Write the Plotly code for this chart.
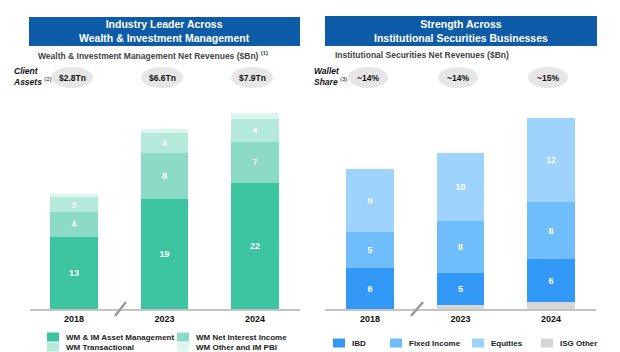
import plotly.graph_objects as go

W, H = 620, 352

# ---------------- data ----------------
years = ["2018", "2023", "2024"]

# Wealth & Investment Management ($Bn)
wm_asset_mgmt = [12.6, 19.2, 22.0]
wm_nii = [4.3, 8.0, 7.2]
wm_transactional = [2.6, 3.5, 4.0]
wm_other = [0.5, 0.8, 1.0]
wm_asset_lbl = ["13", "19", "22"]
wm_nii_lbl = ["4", "8", "7"]
wm_trans_lbl = ["3", "4", "4"]
wm_total_lbl = ["20", "32", "34"]
client_assets = ["$2.8Tn", "$6.6Tn", "$7.9Tn"]

# Institutional Securities ($Bn)
isg_other = [0.0, 0.6, 1.0]
ibd = [6.0, 4.7, 6.3]
fixed_income = [5.3, 7.6, 8.4]
equities = [9.3, 10.1, 12.4]
ibd_lbl = ["6", "5", "6"]
fi_lbl = ["5", "8", "8"]
eq_lbl = ["9", "10", "12"]
isg_total_lbl = ["21", "23", "28"]
wallet_share = ["~14%", "~14%", "~15%"]

# ---------------- styles ----------------
FONT = "Liberation Sans, Arial, sans-serif"
C_AM, C_NII, C_TR, C_OT = "#3CC3A0", "#8BDBC6", "#B4E9DB", "#DDF5EF"
C_IBD, C_FI, C_EQ, C_ISO = "#3399F7", "#6FBDFB", "#9DD3FD", "#D6D6D6"
BLUE = "#0E5BA8"
BW = 0.52


def px(x):
    return x / W


def py(y):
    return 1 - y / H


fig = go.Figure()


def add_bar(x, y, color, labels, name, xa, ya):
    fig.add_trace(go.Bar(
        x=x, y=y, name=name, marker=dict(color=color, line=dict(width=0)),
        width=BW, xaxis=xa, yaxis=ya, showlegend=False,
        text=labels if labels else None,
        texttemplate="%{text}" if labels else None,
        textposition="inside" if labels else "none",
        insidetextanchor="middle", textangle=0, constraintext="none",
        textfont=dict(color="white", size=9, family=FONT, weight="bold"),
        hoverinfo="skip",
    ))


add_bar(years, wm_asset_mgmt, C_AM, wm_asset_lbl, "WM & IM Asset Management", "x", "y")
add_bar(years, wm_nii, C_NII, wm_nii_lbl, "WM Net Interest Income", "x", "y")
add_bar(years, wm_transactional, C_TR, wm_trans_lbl, "WM Transactional", "x", "y")
add_bar(years, wm_other, C_OT, None, "WM Other and IM PBI", "x", "y")

add_bar(years, isg_other, C_ISO, None, "ISG Other", "x2", "y2")
add_bar(years, ibd, C_IBD, ibd_lbl, "IBD", "x2", "y2")
add_bar(years, fixed_income, C_FI, fi_lbl, "Fixed Income", "x2", "y2")
add_bar(years, equities, C_EQ, eq_lbl, "Equities", "x2", "y2")

annotations = []
shapes = []

# totals above bars
wm_tot = [a + b + c + d for a, b, c, d in zip(wm_asset_mgmt, wm_nii, wm_transactional, wm_other)]
isg_tot = [a + b + c + d for a, b, c, d in zip(isg_other, ibd, fixed_income, equities)]
for yr, t, l in zip(years, wm_tot, wm_total_lbl):
    annotations.append(dict(x=yr, y=t, xref="x", yref="y", text=f"<b>{l}</b>", showarrow=False,
                            xanchor="center", yanchor="bottom", yshift=2,
                            font=dict(size=9.5, color="#111", family=FONT)))
for yr, t, l in zip(years, isg_tot, isg_total_lbl):
    annotations.append(dict(x=yr, y=t, xref="x2", yref="y2", text=f"<b>{l}</b>", showarrow=False,
                            xanchor="center", yanchor="bottom", yshift=2,
                            font=dict(size=9.5, color="#111", family=FONT)))

# header boxes
for (x0, x1, y0, y1, txt) in [
    (29, 300, 17, 46, "Industry Leader Across<br>Wealth & Investment Management"),
    (325, 597, 16, 46, "Strength Across<br>Institutional Securities Businesses"),
]:
    shapes.append(dict(type="rect", xref="paper", yref="paper", x0=px(x0), x1=px(x1),
                       y0=py(y1), y1=py(y0), fillcolor=BLUE, line=dict(width=0), layer="below"))
    annotations.append(dict(x=px((x0 + x1) / 2), y=py((y0 + y1) / 2), xref="paper", yref="paper",
                            text=f"<b>{txt}</b>", showarrow=False, align="center",
                            xanchor="center", yanchor="middle",
                            font=dict(size=10.5, color="white", family=FONT)))

# subtitles
annotations.append(dict(x=px(153), y=py(55), xref="paper", yref="paper", showarrow=False,
                        text="Wealth & Investment Management Net Revenues ($Bn) <sup>(1)</sup>",
                        xanchor="center", yanchor="middle",
                        font=dict(size=8.5, color="#444444", family=FONT, weight="bold")))
annotations.append(dict(x=px(333), y=py(55), xref="paper", yref="paper", showarrow=False,
                        text="Institutional Securities Net Revenues ($Bn)",
                        xanchor="left", yanchor="middle",
                        font=dict(size=8.5, color="#444444", family=FONT, weight="bold")))

# row labels
annotations.append(dict(x=px(11), y=py(76), xref="paper", yref="paper", showarrow=False,
                        text="<b><i>Client</i></b><br><b><i>Assets</i></b> <sup>(2)</sup>",
                        xanchor="left", yanchor="middle", align="left",
                        font=dict(size=8.5, color="#111", family=FONT)))
annotations.append(dict(x=px(312), y=py(76), xref="paper", yref="paper", showarrow=False,
                        text="<b><i>Wallet</i></b><br><b><i>Share</i></b> <sup>(3)</sup>",
                        xanchor="left", yanchor="middle", align="left",
                        font=dict(size=8.5, color="#111", family=FONT)))

# ellipses
for cx, t in zip([72, 162, 252], client_assets):
    shapes.append(dict(type="circle", xref="paper", yref="paper", x0=px(cx - 21), x1=px(cx + 21),
                       y0=py(88), y1=py(67), fillcolor="#E6E6E6", line=dict(width=0), layer="below"))
    annotations.append(dict(x=px(cx), y=py(77.5), xref="paper", yref="paper", showarrow=False,
                            xanchor="center", yanchor="middle",
                            text=f"<b>{t}</b>", font=dict(size=8.5, color="#111", family=FONT)))
for cx, t in zip([368, 458, 548], wallet_share):
    shapes.append(dict(type="circle", xref="paper", yref="paper", x0=px(cx - 20), x1=px(cx + 20),
                       y0=py(88), y1=py(67), fillcolor="#E6E6E6", line=dict(width=0), layer="below"))
    annotations.append(dict(x=px(cx), y=py(77.5), xref="paper", yref="paper", showarrow=False,
                            xanchor="center", yanchor="middle",
                            text=f"<b>{t}</b>", font=dict(size=8.5, color="#111", family=FONT)))

# axis break marks
for (x0, y0, x1, y1) in [(115, 316, 126, 302), (411, 316, 423, 302)]:
    shapes.append(dict(type="line", xref="paper", yref="paper", x0=px(x0), y0=py(y0),
                       x1=px(x1), y1=py(y1), line=dict(color="#9A9A9A", width=2.5)))

# legends
legend_items = [
    (47, 337, C_AM, "WM & IM Asset Management"),
    (177, 337, C_NII, "WM Net Interest Income"),
    (47, 347, C_TR, "WM Transactional"),
    (177, 347, C_OT, "WM Other and IM PBI"),
    (333, 343, C_IBD, "IBD"),
    (390, 343, C_FI, "Fixed Income"),
    (472, 343, C_EQ, "Equities"),
    (541, 343, C_ISO, "ISG Other"),
]
for (lx, ly, col, name) in legend_items:
    shapes.append(dict(type="rect", xref="paper", yref="paper", x0=px(lx), x1=px(lx + 12),
                       y0=py(ly + 4.5), y1=py(ly - 4.5), fillcolor=col, line=dict(width=0)))
    annotations.append(dict(x=px(lx + 17), y=py(ly), xref="paper", yref="paper", showarrow=False,
                            text=f"<b>{name}</b>", xanchor="left", yanchor="middle",
                            font=dict(size=8, color="#222", family=FONT)))

ydom = [py(309), py(99)]
dom_h = (ydom[1] - ydom[0]) * H

axis_common = dict(showline=True, linecolor="#C4C4C4", linewidth=1.5, ticks="",
                   showgrid=False, zeroline=False, fixedrange=True,
                   tickfont=dict(size=9, color="#111", family=FONT, weight="bold"),
                   type="category")

fig.update_layout(
    width=W, height=H,
    margin=dict(l=0, r=0, t=0, b=0),
    paper_bgcolor="white", plot_bgcolor="rgba(0,0,0,0)",
    barmode="stack", showlegend=False,
    font=dict(family=FONT),
    xaxis=dict(domain=[px(30), px(300)], range=[-0.486, 2.497], anchor="y", **axis_common),
    yaxis=dict(domain=ydom, range=[0, dom_h / 5.73], visible=False, anchor="x"),
    xaxis2=dict(domain=[px(325), px(596)], range=[-0.497, 2.497], anchor="y2", **axis_common),
    yaxis2=dict(domain=ydom, range=[0, dom_h / 6.8], visible=False, anchor="x2"),
    shapes=shapes, annotations=annotations,
)

fig.write_html("out.html")
